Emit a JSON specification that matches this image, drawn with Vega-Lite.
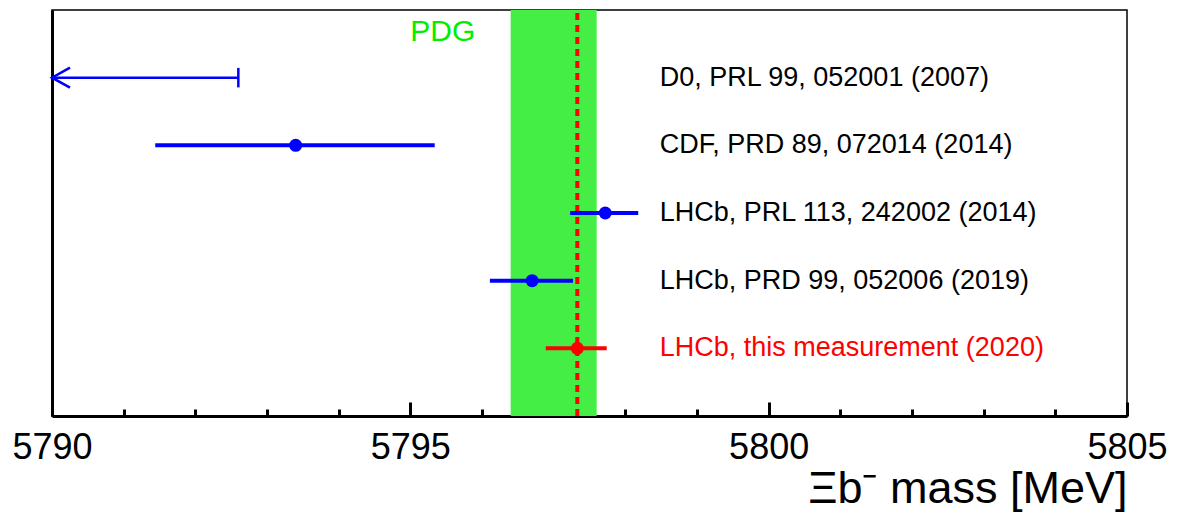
{
  "$schema": "https://vega.github.io/schema/vega-lite/v6.json",
  "width": 1075,
  "height": 406,
  "autosize": {"type": "none"},
  "padding": {"left": 52, "top": 10, "right": 50, "bottom": 99},
  "background": "white",
  "config": {
    "font": "Liberation Sans",
    "view": {"stroke": "black", "strokeWidth": 1.5},
    "axis": {"grid": false},
    "axisY": {"labels": false, "ticks": false, "domainWidth": 3, "domainColor": "black", "grid": false}
  },
  "datasets": {
    "pdg": [{"label": "PDG", "lo": 5796.4, "hi": 5797.6}],
    "results": [
      {"label": "D0, PRL 99, 052001 (2007)", "row": 5, "mass": null, "lo": 5790, "hi": 5792.6, "kind": "limit", "group": "previous"},
      {"label": "CDF, PRD 89, 072014 (2014)", "row": 4, "mass": 5793.4, "lo": 5791.44, "hi": 5795.34, "kind": "measurement", "group": "previous"},
      {"label": "LHCb, PRL 113, 242002 (2014)", "row": 3, "mass": 5797.72, "lo": 5797.23, "hi": 5798.18, "kind": "measurement", "group": "previous"},
      {"label": "LHCb, PRD 99, 052006 (2019)", "row": 2, "mass": 5796.7, "lo": 5796.11, "hi": 5797.27, "kind": "measurement", "group": "previous"},
      {"label": "LHCb, this measurement (2020)", "row": 1, "mass": 5797.33, "lo": 5796.89, "hi": 5797.74, "kind": "measurement", "group": "this"}
    ]
  },
  "layer": [
    {
      "data": {"name": "pdg"},
      "mark": {"type": "rect", "color": "#44ee44"},
      "encoding": {
        "x": {"field": "lo", "type": "quantitative", "scale": {"domain": [5790, 5805], "nice": false, "zero": false},
          "axis": {"orient": "bottom", "values": [5790, 5795, 5800, 5805], "format": "d", "tickSize": -14, "tickWidth": 3, "tickColor": "black",
            "domainWidth": 3, "domainColor": "black", "labelFontSize": 36, "labelFont": "Liberation Sans", "labelColor": "black",
            "labelPadding": 28, "labelFlush": false, "labelOverlap": false,
            "title": "Ξb⁻ mass [MeV]", "titleFont": "Liberation Sans", "titleFontSize": 45, "titleFontWeight": "normal", "titleColor": "black",
            "titleAnchor": "end", "titleAlign": "right", "titleBaseline": "alphabetic", "titleX": 1075, "titleY": 86}},
        "x2": {"field": "hi"},
        "y": {"datum": 0, "type": "quantitative", "scale": {"domain": [0, 6], "nice": false, "zero": false}, "title": null},
        "y2": {"datum": 6}
      }
    },
    {
      "data": {"name": "pdg"},
      "mark": {"type": "text", "align": "left", "baseline": "middle", "fontSize": 30, "color": "#00ee00", "font": "Liberation Sans"},
      "encoding": {
        "x": {"datum": 5795.0, "type": "quantitative", "axis": null},
        "y": {"datum": 5.67, "type": "quantitative", "title": null},
        "text": {"field": "label"}
      }
    },
    {
      "data": {"name": "results"},
      "transform": [{"filter": "datum.group === 'this'"}],
      "mark": {"type": "rule", "color": "#ff0000", "strokeWidth": 4, "strokeDash": [7, 5]},
      "encoding": {
        "x": {"field": "mass", "type": "quantitative", "axis": null},
        "y": {"datum": 0, "type": "quantitative", "title": null},
        "y2": {"datum": 6}
      }
    },
    {
      "data": {"name": "results"},
      "transform": [{"filter": "datum.kind === 'measurement'"}],
      "mark": {"type": "rule", "strokeWidth": 4},
      "encoding": {
        "x": {"field": "lo", "type": "quantitative",
          "axis": {"orient": "bottom", "values": [5791, 5792, 5793, 5794, 5796, 5797, 5798, 5799, 5801, 5802, 5803, 5804], "tickSize": -7, "tickWidth": 3, "tickColor": "black", "labels": false, "domain": false, "title": null, "grid": false}},
        "x2": {"field": "hi"},
        "y": {"field": "row", "type": "quantitative", "title": null},
        "color": {"field": "group", "type": "nominal", "scale": {"domain": ["previous", "this"], "range": ["#0000ff", "#ff0000"]}, "legend": null}
      }
    },
    {
      "data": {"name": "results"},
      "transform": [{"filter": "datum.kind === 'measurement'"}],
      "mark": {"type": "point", "shape": "circle", "filled": true, "size": 169, "opacity": 1},
      "encoding": {
        "x": {"field": "mass", "type": "quantitative", "axis": null},
        "y": {"field": "row", "type": "quantitative", "title": null},
        "color": {"field": "group", "type": "nominal", "scale": {"domain": ["previous", "this"], "range": ["#0000ff", "#ff0000"]}, "legend": null}
      }
    },
    {
      "data": {"name": "results"},
      "transform": [{"filter": "datum.kind === 'limit'"}],
      "mark": {"type": "rule", "strokeWidth": 2.5, "color": "#0000ff"},
      "encoding": {
        "x": {"field": "lo", "type": "quantitative", "axis": null},
        "x2": {"field": "hi"},
        "y": {"field": "row", "type": "quantitative", "title": null}
      }
    },
    {
      "data": {"name": "results"},
      "transform": [{"filter": "datum.kind === 'limit'"}],
      "mark": {"type": "point", "shape": "M1.8,-1L0,0L1.8,1", "filled": false, "size": 400, "strokeWidth": 2.5, "color": "#0000ff", "opacity": 1},
      "encoding": {
        "x": {"field": "lo", "type": "quantitative", "axis": null},
        "y": {"field": "row", "type": "quantitative", "title": null}
      }
    },
    {
      "data": {"name": "results"},
      "transform": [{"filter": "datum.kind === 'limit'"}],
      "mark": {"type": "point", "shape": "M0,-1L0,1", "filled": false, "size": 380, "strokeWidth": 2.5, "color": "#0000ff", "opacity": 1},
      "encoding": {
        "x": {"field": "hi", "type": "quantitative", "axis": null},
        "y": {"field": "row", "type": "quantitative", "title": null}
      }
    },
    {
      "data": {"name": "results"},
      "mark": {"type": "text", "align": "left", "baseline": "middle", "fontSize": 27, "font": "Liberation Sans"},
      "encoding": {
        "x": {"datum": 5798.48, "type": "quantitative", "axis": null},
        "y": {"field": "row", "type": "quantitative", "title": null},
        "text": {"field": "label"},
        "color": {"field": "group", "type": "nominal", "scale": {"domain": ["previous", "this"], "range": ["#000000", "#ff0000"]}, "legend": null}
      }
    }
  ],
  "resolve": {"axis": {"x": "independent"}, "scale": {"color": "independent"}}
}
